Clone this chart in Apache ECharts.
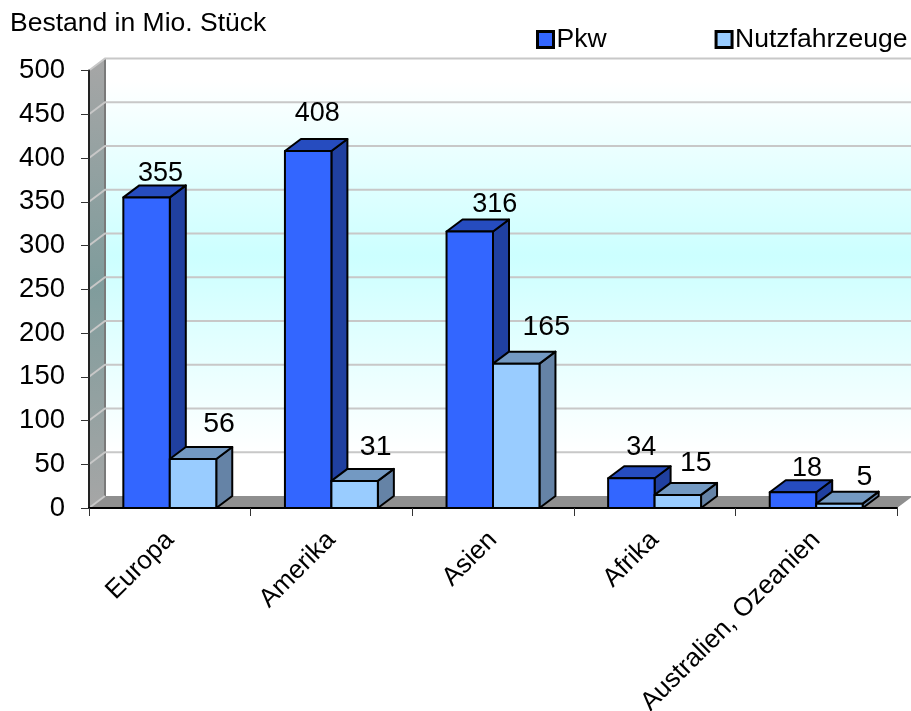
<!DOCTYPE html>
<html><head><meta charset="utf-8">
<script src="https://cdn.jsdelivr.net/npm/echarts@6/dist/echarts.min.js"></script>
<style>html,body{margin:0;padding:0;background:#fff}#c{width:911px;height:711px}</style>
</head><body><div id="c"></div>
<script>
const categories = ['Europa','Amerika','Asien','Afrika','Australien, Ozeanien'];
const pkw = [355,408,316,34,18];
const nutzfahrzeuge = [56,31,165,15,5];
const yTicks = [0,50,100,150,200,250,300,350,400,450,500];

const FONT = '"Liberation Sans", Arial, sans-serif';
const DX = 16, DY = -12;
const BAR_RATIO = 0.2875;
const pkwNudge = [[14,-24],[9,-37],[25,-27],[10,-31],[14,-24]];
const nutzNudge = [[26,-35],[21,-34],[30,-36],[18,-32],[25,-26]];

function barRender(side, colors, nudge, fontSize){
  return function(params, api){
    const cat = api.value(0), val = api.value(1);
    const top = api.coord([cat,val]), base = api.coord([cat,0]);
    const bw = api.size([1,0])[0]*BAR_RATIO;
    const x0 = side===0 ? top[0]-bw : top[0], x1 = x0+bw;
    const y0 = top[1], y1 = base[1];
    const line = {stroke:'#000',lineWidth:2,lineJoin:'round'};
    const n = nudge[params.dataIndex];
    return {type:'group',children:[
      {type:'polygon',shape:{points:[[x1,y0],[x1+DX,y0+DY],[x1+DX,y1+DY],[x1,y1]]},style:Object.assign({fill:colors.side},line)},
      {type:'polygon',shape:{points:[[x0,y0],[x0+DX,y0+DY],[x1+DX,y0+DY],[x1,y0]]},style:Object.assign({fill:colors.top},line)},
      {type:'rect',shape:{x:x0,y:y0,width:bw,height:y1-y0},style:Object.assign({fill:colors.front},line)},
      {type:'text',x:(x0+x1)/2+n[0],y:y0+n[1],style:{text:String(val),fill:'#000',font:fontSize+'px '+FONT,align:'center',verticalAlign:'middle'}}
    ]};
  };
}
const wallRender = function(params, api){
  const cs = params.coordSys;
  const yTop = api.coord([0,500])[1], yBase = api.coord([0,0])[1];
  const xl = cs.x, xr = cs.x+cs.width;
  return {type:'group',children:[
    {type:'rect',shape:{x:xl+DX,y:yTop+DY,width:xr-xl,height:yBase-yTop},style:{fill:{type:'linear',x:0,y:0,x2:0,y2:1,colorStops:[
      {offset:0,color:'#ffffff'},{offset:0.05,color:'#ffffff'},{offset:0.45,color:'#ccffff'},{offset:0.9,color:'#ffffff'},{offset:1,color:'#ffffff'}]}}},
    {type:'polygon',shape:{points:[[xl,yTop],[xl+DX,yTop+DY],[xl+DX,yBase+DY],[xl,yBase]]},style:{fill:{type:'linear',x:0,y:0,x2:0,y2:1,colorStops:[
      {offset:0,color:'#a6a6a6'},{offset:0.5,color:'#7f9c9c'},{offset:1,color:'#a6a6a6'}]}}},
    {type:'polygon',shape:{points:[[xl,yBase],[xl+DX,yBase+DY],[xr+DX,yBase+DY],[xr,yBase]]},style:{fill:'#8f8f8f'}},
    {type:'line',shape:{x1:xl+DX,y1:yTop+DY,x2:xl+DX,y2:yBase+DY},style:{stroke:'#7a7a7a',lineWidth:2}}
  ]};
};
const gridRender = function(params, api){
  const cs = params.coordSys, v = api.value(1), y = api.coord([0,v])[1];
  const xl = cs.x, xr = cs.x+cs.width;
  const pts = v === 0 ? [[xl,y],[xl+DX,y+DY]] : [[xl,y],[xl+DX,y+DY],[xr+DX,y+DY]];
  return {type:'polyline',shape:{points:pts},style:{fill:'none',stroke:'#c8c8c8',lineWidth:2}};
};

const chart = echarts.init(document.getElementById('c'));
chart.setOption({
  animation:false,
  backgroundColor:'#fff',
  textStyle:{fontFamily:FONT},
  title:{text:'Bestand in Mio. Stück',left:5,top:5,textStyle:{fontFamily:FONT,fontWeight:'normal',fontSize:26.5,color:'#000'}},
  legend:{data:['Pkw','Nutzfahrzeuge'],left:536,top:26,padding:0,itemWidth:16,itemHeight:16,itemGap:108,icon:'rect',
    itemStyle:{borderColor:'#000',borderWidth:3},textStyle:{fontFamily:FONT,fontSize:26.5,color:'#000',padding:[0,0,0,-2]}},
  grid:{left:89,right:14,top:70.5,bottom:203,outerBoundsMode:'none'},
  xAxis:{type:'category',data:categories,z:10,
    axisLine:{lineStyle:{color:'#000',width:2}},axisTick:{show:true,length:8,lineStyle:{color:'#333'}},
    axisLabel:{interval:0,rotate:45,margin:28,fontSize:26,color:'#000',fontFamily:FONT}},
  yAxis:{type:'value',min:0,max:500,interval:50,z:10,
    axisLine:{show:true,lineStyle:{color:'#222',width:2}},axisTick:{show:true,length:8,lineStyle:{color:'#333'}},
    splitLine:{show:false},axisLabel:{margin:24,fontSize:27.5,color:'#000',fontFamily:FONT,padding:[4,0,0,0]}},
  series:[
    {type:'custom',name:'walls',z:1,silent:true,renderItem:wallRender,data:[[0,0]]},
    {type:'custom',name:'gridlines',z:2,silent:true,renderItem:gridRender,data:yTicks.map(v=>[0,v])},
    {type:'custom',name:'Pkw',z:3,itemStyle:{color:'#3366ff'},renderItem:barRender(0,{front:'#3366ff',side:'#2040a0',top:'#264cbf'},pkwNudge,27),data:pkw.map((v,i)=>[i,v])},
    {type:'custom',name:'Nutzfahrzeuge',z:4,itemStyle:{color:'#99ccff'},renderItem:barRender(1,{front:'#99ccff',side:'#6583a6',top:'#7399c2'},nutzNudge,28.5),data:nutzfahrzeuge.map((v,i)=>[i,v])}
  ]
});
</script></body></html>
